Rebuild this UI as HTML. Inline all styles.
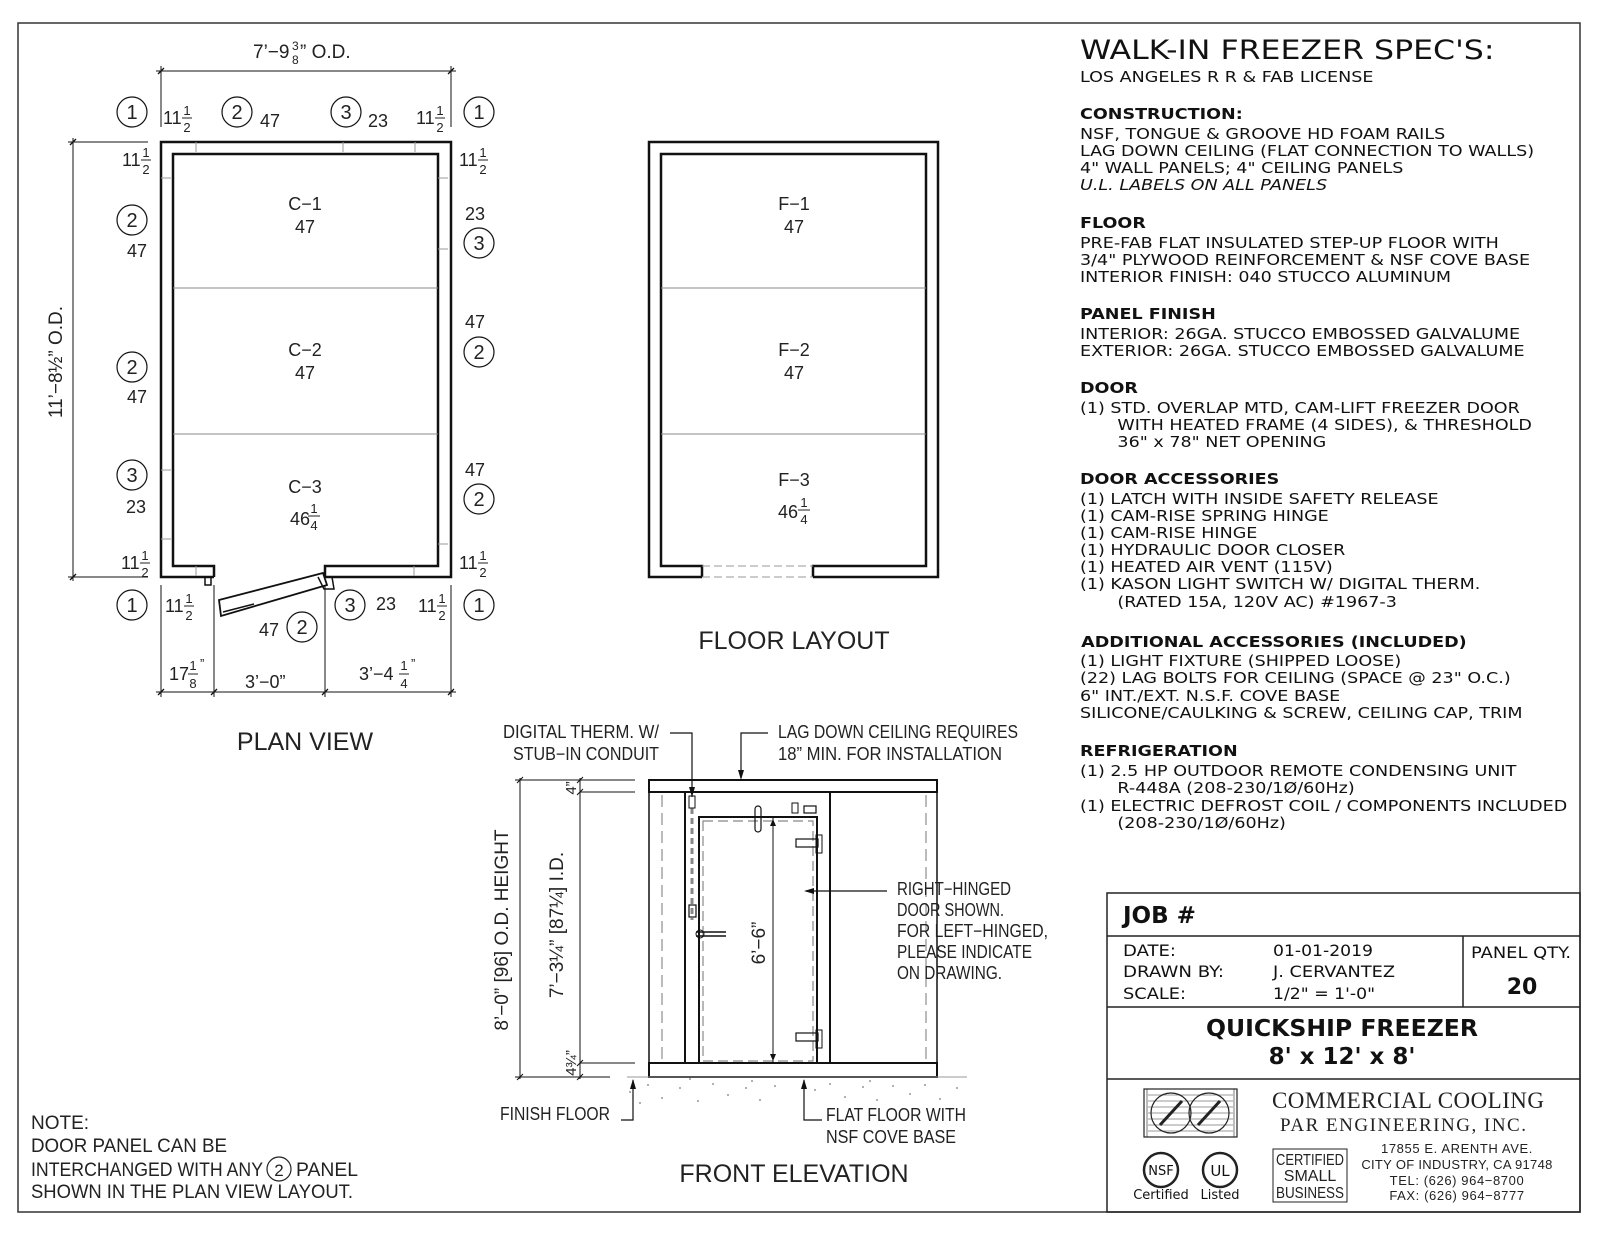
<!DOCTYPE html>
<html><head><meta charset="utf-8"><style>
html,body{margin:0;padding:0;background:#fff}
svg{display:block}
.c{font-family:"Liberation Sans",sans-serif;fill:#222}
.s{font-family:"DejaVu Sans","Liberation Sans",sans-serif;fill:#111}
</style></head><body>
<svg width="1600" height="1236" viewBox="0 0 1600 1236" xmlns="http://www.w3.org/2000/svg">
<rect x="18" y="23" width="1562" height="1189" fill="none" stroke="#333" stroke-width="1.5"/>

<!-- PLAN VIEW -->
<g stroke="#111" fill="none">
<path d="M214,577 L161,577 L161,142 L451,142 L451,577 L325,577" stroke-width="2.5"/>
<path d="M214,577 L214,566 L173,566 L173,154 L438,154 L438,566 L325,566 L325,577" stroke-width="2.5"/>
<line x1="173" y1="288" x2="438" y2="288" stroke="#888" stroke-width="1"/>
<line x1="173" y1="434" x2="438" y2="434" stroke="#888" stroke-width="1"/>
<g stroke="#999" stroke-width="1">
<path d="M196,142v10M343,142v10M415,142v10M161,178h10M161,470h10M161,539h10M438,178h10M438,249h10M438,544h10M196,566v10M414,566v10"/>
</g>
<polygon points="219,600 323,573 327,585 221,616" stroke-width="1.8"/>
<path d="M223,612 L254,604 M205,577 v8 h6 v-8 M318,577 l6,12 h10 l-2,-12" stroke-width="1.5"/>
<g stroke-width="1">
<line x1="156" y1="71" x2="456" y2="71"/>
<line x1="161" y1="66" x2="161" y2="127"/><line x1="451" y1="66" x2="451" y2="127"/>
<line x1="73" y1="138" x2="73" y2="581"/>
<line x1="68" y1="142" x2="148" y2="142"/><line x1="68" y1="577" x2="148" y2="577"/>
<line x1="156" y1="692" x2="456" y2="692"/>
<path d="M161,585V697M214,585V697M325,585V697M451,585V697"/>
</g>
<g stroke-width="1.3">
<path d="M158,74l6,-6M448,74l6,-6M70,145l6,-6M70,580l6,-6M158,695l6,-6M211,695l6,-6M322,695l6,-6M448,695l6,-6"/>
</g>
<g stroke-width="1.2">
<circle cx="132" cy="112" r="15"/><circle cx="237" cy="112" r="15"/><circle cx="346" cy="112" r="15"/><circle cx="479" cy="112" r="15"/>
<circle cx="132" cy="220" r="15"/><circle cx="132" cy="367" r="15"/><circle cx="132" cy="475" r="15"/>
<circle cx="479" cy="243" r="15"/><circle cx="479" cy="352" r="15"/><circle cx="479" cy="499" r="15"/>
<circle cx="132" cy="605" r="15"/><circle cx="350" cy="605" r="15"/><circle cx="479" cy="605" r="15"/><circle cx="302" cy="627" r="15"/>
</g>
</g>
<g class="c" font-size="20" text-anchor="middle">
<text x="132" y="119">1</text><text x="237" y="119">2</text><text x="346" y="119">3</text><text x="479" y="119">1</text>
<text x="132" y="227">2</text><text x="132" y="374">2</text><text x="132" y="482">3</text>
<text x="479" y="250">3</text><text x="479" y="359">2</text><text x="479" y="506">2</text>
<text x="132" y="612">1</text><text x="350" y="612">3</text><text x="479" y="612">1</text><text x="302" y="634">2</text>
</g>
<g class="c" font-size="18" text-anchor="middle">
<text x="270" y="127">47</text><text x="378" y="127">23</text>
<text x="137" y="257">47</text><text x="137" y="403">47</text><text x="136" y="513">23</text>
<text x="475" y="220">23</text><text x="475" y="328">47</text><text x="475" y="476">47</text>
<text x="386" y="610">23</text><text x="269" y="636">47</text>
<text x="305" y="210">C−1</text><text x="305" y="233">47</text>
<text x="305" y="356">C−2</text><text x="305" y="379">47</text>
<text x="305" y="493">C−3</text>
</g>
<text class="c" font-size="18" x="290" y="525">46</text>
<g class="c" font-size="13" text-anchor="middle">
<text x="314" y="513">1</text><text x="314" y="530">4</text>
</g>
<g stroke="#222" stroke-width="1"><line x1="308" y1="516" x2="320" y2="516"/></g>
<g class="c" font-size="18">
<text x="163" y="124">11</text><text x="416" y="124">11</text>
<text x="122" y="166">11</text><text x="459" y="166">11</text>
<text x="121" y="569">11</text><text x="459" y="569">11</text>
<text x="165" y="612">11</text><text x="418" y="612">11</text>
<text x="169" y="680">17</text><text x="245" y="688">3’−0”</text><text x="359" y="680">3’−4</text>
</g>
<g class="c" font-size="13" text-anchor="middle">
<text x="187" y="115">1</text><text x="187" y="132">2</text>
<text x="440" y="115">1</text><text x="440" y="132">2</text>
<text x="146" y="157">1</text><text x="146" y="174">2</text>
<text x="483" y="157">1</text><text x="483" y="174">2</text>
<text x="145" y="560">1</text><text x="145" y="577">2</text>
<text x="483" y="560">1</text><text x="483" y="577">2</text>
<text x="189" y="603">1</text><text x="189" y="620">2</text>
<text x="442" y="603">1</text><text x="442" y="620">2</text>
<text x="193" y="670">1</text><text x="193" y="688">8</text>
<text x="404" y="670">1</text><text x="404" y="688">4</text>
</g>
<g stroke="#222" stroke-width="1">
<path d="M182,118h10M435,118h10M141,160h10M478,160h10M140,563h10M478,563h10M184,606h10M437,606h10M188,674h10M399,674h10"/>
</g>
<text class="c" font-size="13" x="200" y="668">”</text><text class="c" font-size="13" x="411" y="668">”</text>
<text class="c" font-size="19" x="253" y="58">7’−9</text><text class="c" font-size="12" x="292" y="50">3</text><text class="c" font-size="12" x="292" y="64">8</text>
<text class="c" font-size="19" x="300" y="58">”  O.D.</text>
<text class="c" font-size="19" transform="translate(62,362) rotate(-90)" text-anchor="middle">11’−8½” O.D.</text>
<text class="c" font-size="25" x="305" y="750" text-anchor="middle">PLAN VIEW</text>

<!-- FLOOR LAYOUT -->
<g stroke="#111" fill="none">
<path d="M702,577 L649,577 L649,142 L938,142 L938,577 L813,577" stroke-width="2.5"/>
<path d="M702,577 L702,566 L661,566 L661,154 L926,154 L926,566 L813,566 L813,577" stroke-width="2.5"/>
<line x1="661" y1="288" x2="926" y2="288" stroke="#888" stroke-width="1"/>
<line x1="661" y1="434" x2="926" y2="434" stroke="#888" stroke-width="1"/>
<path d="M702,566H813M702,577H813" stroke="#999" stroke-width="1" stroke-dasharray="8,4"/>
</g>
<g class="c" font-size="18" text-anchor="middle">
<text x="794" y="210">F−1</text><text x="794" y="233">47</text>
<text x="794" y="356">F−2</text><text x="794" y="379">47</text>
<text x="794" y="486">F−3</text><text x="788" y="518">46</text>
</g>
<g class="c" font-size="13" text-anchor="middle"><text x="804" y="507">1</text><text x="804" y="524">4</text></g>
<line x1="798" y1="510" x2="810" y2="510" stroke="#222"/>
<text class="c" font-size="25" x="794" y="649" text-anchor="middle">FLOOR LAYOUT</text>

<!-- FRONT ELEVATION -->
<g stroke="#111" fill="none">
<rect x="649" y="780" width="288" height="12" stroke-width="2"/>
<rect x="649" y="1063" width="288" height="14" stroke-width="2"/>
<path d="M649,792V1063M937,792V1063" stroke-width="1.5"/>
<path d="M662,795V1063M926,795V1063" stroke="#777" stroke-width="1" stroke-dasharray="12,6"/>
<path d="M685,792V1063M830,792V1063" stroke-width="2"/>
<rect x="699" y="817" width="118" height="246" stroke-width="2"/>
<rect x="703" y="821" width="110" height="240" stroke="#888" stroke-width="1.2" stroke-dasharray="10,5"/>
<line x1="773" y1="817" x2="773" y2="1063" stroke-width="1"/>
<line x1="692" y1="808" x2="692" y2="920" stroke="#888" stroke-width="3" stroke-dasharray="6,4"/>
<rect x="689" y="796" width="6" height="12" stroke-width="1"/>
<rect x="689" y="905" width="7" height="12" stroke-width="1.2"/>
<rect x="755" y="806" width="6" height="26" rx="3" stroke-width="1.2"/>
<rect x="792" y="803" width="6" height="10" stroke-width="1"/><rect x="804" y="806" width="12" height="7" stroke-width="1.2"/>
<path d="M696,932h30M696,936h30" stroke-width="1.5"/><circle cx="700" cy="934" r="4" stroke-width="1"/>
<rect x="796" y="839" width="22" height="8" stroke-width="1.2"/><rect x="796" y="1033" width="22" height="8" stroke-width="1.2"/>
<rect x="816" y="835" width="6" height="18" stroke-width="1"/><rect x="816" y="1030" width="6" height="18" stroke-width="1"/>
<path d="M670,733H692V797" stroke-width="1.2"/>
<path d="M768,733H741V778" stroke-width="1.2"/>
<path d="M887,891H806" stroke-width="1.2"/>
<path d="M621,1120H633V1080" stroke-width="1.2"/>
<path d="M822,1120H804V1080" stroke-width="1.2"/>
<g stroke-width="1">
<path d="M520,778V1079M580,778V1079M515,780H635M515,1077H610M580,792H635M580,1063H635"/>
<path d="M517,783l6,-6M517,1080l6,-6M577,783l6,-6M577,795l6,-6M577,1066l6,-6M577,1080l6,-6"/>
<path d="M627,1077H967" stroke="#999"/>
</g>
</g>
<g fill="#111">
<polygon points="692,797 689,787 695,787"/><polygon points="741,780 738,770 744,770"/>
<polygon points="804,891 814,888 814,894"/><polygon points="633,1079 630,1089 636,1089"/>
<polygon points="804,1079 801,1089 807,1089"/>
<polygon points="773,819 770,826 776,826"/><polygon points="773,1061 770,1054 776,1054"/>
</g>
<g fill="#999">
<circle cx="630" cy="1092" r="1"/><circle cx="648" cy="1085" r="1"/><circle cx="662" cy="1098" r="1"/><circle cx="680" cy="1088" r="1"/><circle cx="698" cy="1101" r="1"/><circle cx="713" cy="1084" r="1"/><circle cx="728" cy="1095" r="1"/><circle cx="746" cy="1088" r="1"/><circle cx="760" cy="1100" r="1"/><circle cx="775" cy="1086" r="1"/><circle cx="815" cy="1090" r="1"/><circle cx="830" cy="1084" r="1"/><circle cx="845" cy="1097" r="1"/><circle cx="863" cy="1087" r="1"/><circle cx="877" cy="1100" r="1"/><circle cx="893" cy="1086" r="1"/><circle cx="910" cy="1094" r="1"/><circle cx="925" cy="1085" r="1"/><circle cx="940" cy="1099" r="1"/><circle cx="957" cy="1088" r="1"/><circle cx="640" cy="1103" r="1"/><circle cx="690" cy="1079" r="1"/><circle cx="752" cy="1081" r="1"/><circle cx="870" cy="1081" r="1"/>
</g>
<g class="c" font-size="18">
<text x="659" y="738" text-anchor="end" textLength="156" lengthAdjust="spacingAndGlyphs">DIGITAL THERM. W/</text>
<text x="659" y="760" text-anchor="end" textLength="146" lengthAdjust="spacingAndGlyphs">STUB−IN CONDUIT</text>
<text x="778" y="738" textLength="240" lengthAdjust="spacingAndGlyphs">LAG DOWN CEILING REQUIRES</text>
<text x="778" y="760" textLength="224" lengthAdjust="spacingAndGlyphs">18” MIN. FOR INSTALLATION</text>
<text x="897" y="895" textLength="114" lengthAdjust="spacingAndGlyphs">RIGHT−HINGED</text>
<text x="897" y="916" textLength="107" lengthAdjust="spacingAndGlyphs">DOOR SHOWN.</text>
<text x="897" y="937" textLength="151" lengthAdjust="spacingAndGlyphs">FOR LEFT−HINGED,</text>
<text x="897" y="958" textLength="135" lengthAdjust="spacingAndGlyphs">PLEASE INDICATE</text>
<text x="897" y="979" textLength="105" lengthAdjust="spacingAndGlyphs">ON DRAWING.</text>
<text x="500" y="1120" textLength="110" lengthAdjust="spacingAndGlyphs">FINISH FLOOR</text>
<text x="826" y="1121" textLength="140" lengthAdjust="spacingAndGlyphs">FLAT FLOOR WITH</text>
<text x="826" y="1143" textLength="130" lengthAdjust="spacingAndGlyphs">NSF COVE BASE</text>
<text font-size="19" transform="translate(508,930) rotate(-90)" text-anchor="middle">8’−0” [96] O.D. HEIGHT</text>
<text font-size="19" transform="translate(563,925) rotate(-90)" text-anchor="middle">7’−3¼” [87¼] I.D.</text>
<text font-size="19" transform="translate(765,943) rotate(-90)" text-anchor="middle">6’−6”</text>
<text font-size="15" transform="translate(576,788) rotate(-90)" text-anchor="middle">4”</text>
<text font-size="15" transform="translate(576,1063) rotate(-90)" text-anchor="middle">4¾”</text>
</g>
<text class="c" font-size="25" x="794" y="1182" text-anchor="middle">FRONT ELEVATION</text>

<!-- NOTE -->
<g class="c" font-size="19">
<text x="31" y="1129">NOTE:</text>
<text x="31" y="1152" textLength="196" lengthAdjust="spacingAndGlyphs">DOOR PANEL CAN BE</text>
<text x="31" y="1176" textLength="232" lengthAdjust="spacingAndGlyphs">INTERCHANGED WITH ANY</text>
<text x="279" y="1176" text-anchor="middle" font-size="17">2</text>
<text x="296" y="1176" textLength="62" lengthAdjust="spacingAndGlyphs">PANEL</text>
<text x="31" y="1198" textLength="322" lengthAdjust="spacingAndGlyphs">SHOWN IN THE PLAN VIEW LAYOUT.</text>
</g>
<circle cx="279" cy="1169" r="12" fill="none" stroke="#222" stroke-width="1.2"/>

<!-- SPECS -->
<g class="s" transform="translate(1080,0) scale(1.17,1) translate(-1080,0)">
<text x="1080" y="59" font-size="27">WALK-IN FREEZER SPEC'S:</text>
<g font-size="15">
<text x="1080" y="82">LOS ANGELES R R &amp; FAB LICENSE</text>
<text x="1080" y="119" font-weight="bold">CONSTRUCTION:</text>
<text x="1080" y="139">NSF, TONGUE &amp; GROOVE HD FOAM RAILS</text>
<text x="1080" y="156">LAG DOWN CEILING (FLAT CONNECTION TO WALLS)</text>
<text x="1080" y="173">4" WALL PANELS; 4" CEILING PANELS</text>
<text x="1080" y="190" font-style="italic">U.L. LABELS ON ALL PANELS</text>
<text x="1080" y="228" font-weight="bold">FLOOR</text>
<text x="1080" y="248">PRE-FAB FLAT INSULATED STEP-UP FLOOR WITH</text>
<text x="1080" y="265">3/4" PLYWOOD REINFORCEMENT &amp; NSF COVE BASE</text>
<text x="1080" y="282">INTERIOR FINISH: 040 STUCCO ALUMINUM</text>
<text x="1080" y="319" font-weight="bold">PANEL FINISH</text>
<text x="1080" y="339">INTERIOR: 26GA. STUCCO EMBOSSED GALVALUME</text>
<text x="1080" y="356">EXTERIOR: 26GA. STUCCO EMBOSSED GALVALUME</text>
<text x="1080" y="393" font-weight="bold">DOOR</text>
<text x="1080" y="413">(1) STD. OVERLAP MTD, CAM-LIFT FREEZER DOOR</text>
<text x="1112" y="430">WITH HEATED FRAME (4 SIDES), &amp;  THRESHOLD</text>
<text x="1112" y="447">36" x 78" NET OPENING</text>
<text x="1080" y="484" font-weight="bold">DOOR ACCESSORIES</text>
<text x="1080" y="504">(1) LATCH WITH INSIDE SAFETY RELEASE</text>
<text x="1080" y="521">(1) CAM-RISE SPRING HINGE</text>
<text x="1080" y="538">(1) CAM-RISE HINGE</text>
<text x="1080" y="555">(1) HYDRAULIC DOOR CLOSER</text>
<text x="1080" y="572">(1) HEATED AIR VENT (115V)</text>
<text x="1080" y="589">(1) KASON LIGHT SWITCH W/ DIGITAL THERM.</text>
<text x="1112" y="607">(RATED 15A, 120V AC) #1967-3</text>
<text x="1081" y="647" font-weight="bold">ADDITIONAL ACCESSORIES (INCLUDED)</text>
<text x="1080" y="666">(1) LIGHT FIXTURE (SHIPPED LOOSE)</text>
<text x="1080" y="683">(22) LAG BOLTS FOR CEILING (SPACE @ 23" O.C.)</text>
<text x="1080" y="701">6" INT./EXT. N.S.F. COVE BASE</text>
<text x="1080" y="718">SILICONE/CAULKING &amp; SCREW, CEILING CAP, TRIM</text>
<text x="1080" y="756" font-weight="bold">REFRIGERATION</text>
<text x="1080" y="776">(1) 2.5 HP OUTDOOR REMOTE CONDENSING UNIT</text>
<text x="1112" y="793">R-448A (208-230/1Ø/60Hz)</text>
<text x="1080" y="811">(1) ELECTRIC DEFROST COIL / COMPONENTS INCLUDED</text>
<text x="1112" y="828">(208-230/1Ø/60Hz)</text>
</g>
</g>

<!-- TITLE BLOCK -->
<g stroke="#222" fill="none" stroke-width="1.5">
<rect x="1107" y="893" width="473" height="319"/>
<path d="M1107,936H1580M1107,1007H1580M1107,1079H1580M1463,936V1007"/>
<rect x="1144" y="1089" width="93" height="48" stroke-width="1.2"/>
<rect x="1147" y="1089" width="87" height="48" stroke-width="0.6"/>
<path d="M1148,1095H1233M1148,1101H1233M1148,1107H1233M1148,1113H1233M1148,1119H1233M1148,1125H1233M1148,1131H1233" stroke="#777" stroke-width="0.8"/>
<circle cx="1171" cy="1113" r="20" stroke-width="1.2"/><circle cx="1209" cy="1113" r="20" stroke-width="1.2"/>
<path d="M1160,1125L1182,1101M1198,1125L1220,1101" stroke-width="3"/>
<circle cx="1161" cy="1170" r="17" stroke-width="2.5"/><circle cx="1220" cy="1170" r="17" stroke-width="2.5"/>
<rect x="1273" y="1149" width="74" height="53" stroke-width="1"/>
</g>
<g class="s">
<text x="1123" y="923" font-size="23" font-weight="bold">JOB #</text>
<g font-size="16">
<text x="1123" y="956" textLength="53" lengthAdjust="spacingAndGlyphs">DATE:</text><text x="1123" y="977" textLength="101" lengthAdjust="spacingAndGlyphs">DRAWN BY:</text><text x="1123" y="999" textLength="63" lengthAdjust="spacingAndGlyphs">SCALE:</text>
<text x="1273" y="956" textLength="100" lengthAdjust="spacingAndGlyphs">01-01-2019</text><text x="1273" y="977" textLength="122" lengthAdjust="spacingAndGlyphs">J. CERVANTEZ</text><text x="1273" y="999" textLength="102" lengthAdjust="spacingAndGlyphs">1/2" = 1'-0"</text>
<text x="1471" y="958" textLength="100" lengthAdjust="spacingAndGlyphs">PANEL QTY.</text>
</g>
<text x="1522" y="994" font-size="22" font-weight="bold" text-anchor="middle">20</text>
<text x="1342" y="1036" font-size="23" font-weight="bold" text-anchor="middle" textLength="272" lengthAdjust="spacingAndGlyphs">QUICKSHIP FREEZER</text>
<text x="1342" y="1064" font-size="23" font-weight="bold" text-anchor="middle">8' x 12' x 8'</text>
<text x="1161" y="1175" font-size="13" text-anchor="middle">NSF</text>
<text x="1220" y="1176" font-size="15" text-anchor="middle">UL</text>
<text x="1161" y="1199" font-size="13" text-anchor="middle">Certified</text>
<text x="1220" y="1199" font-size="13" text-anchor="middle">Listed</text>
</g>
<g font-family="'Liberation Serif',serif" fill="#222">
<text x="1272" y="1108" font-size="23" textLength="272">COMMERCIAL  COOLING</text>
<text x="1280" y="1131" font-size="19" textLength="246">PAR ENGINEERING, INC.</text>
</g>
<g class="c" text-anchor="middle" fill="#333">
<text x="1310" y="1165" font-size="16" textLength="68" lengthAdjust="spacingAndGlyphs">CERTIFIED</text>
<text x="1310" y="1181" font-size="16">SMALL</text>
<text x="1310" y="1198" font-size="16" textLength="68" lengthAdjust="spacingAndGlyphs">BUSINESS</text>
<text x="1457" y="1153" font-size="13" letter-spacing="0.6">17855 E. ARENTH AVE.</text>
<text x="1457" y="1169" font-size="13" letter-spacing="0.3">CITY OF INDUSTRY, CA 91748</text>
<text x="1457" y="1185" font-size="13" letter-spacing="0.6">TEL: (626) 964−8700</text>
<text x="1457" y="1200" font-size="13" letter-spacing="0.6">FAX: (626) 964−8777</text>
</g>
</svg>
</body></html>
